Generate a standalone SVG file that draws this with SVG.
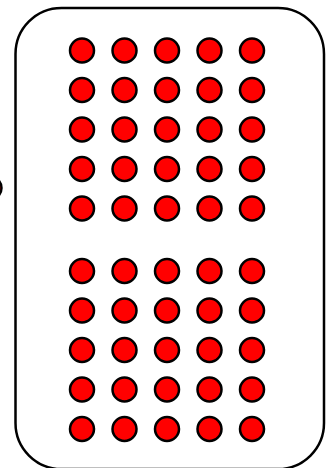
<svg xmlns="http://www.w3.org/2000/svg" width="326" height="468" viewBox="0 0 326 468">
<style>
.box{fill:#fff;stroke:#000;stroke-width:2.5}
.dot{fill:#f00;stroke:#000;stroke-width:2.5}
</style>
<defs>
<circle id="d" r="12" class="dot"/>
</defs>
<rect width="326" height="468" fill="#fff"/>
<g id="outside-dot"><use href="#d" x="-10.5" y="188"/></g>
<g id="container"><rect class="box" x="15.5" y="8" width="308.5" height="461" rx="46" ry="46"/></g>
<g id="group-top">
<g id="r1"><use href="#d" x="82" y="50.5"/><use href="#d" x="124.5" y="50.5"/><use href="#d" x="167" y="50.5"/><use href="#d" x="209.5" y="50.5"/><use href="#d" x="252" y="50.5"/></g>
<g id="r2"><use href="#d" x="82" y="90"/><use href="#d" x="124.5" y="90"/><use href="#d" x="167" y="90"/><use href="#d" x="209.5" y="90"/><use href="#d" x="252" y="90"/></g>
<g id="r3"><use href="#d" x="82" y="129.5"/><use href="#d" x="124.5" y="129.5"/><use href="#d" x="167" y="129.5"/><use href="#d" x="209.5" y="129.5"/><use href="#d" x="252" y="129.5"/></g>
<g id="r4"><use href="#d" x="82" y="169"/><use href="#d" x="124.5" y="169"/><use href="#d" x="167" y="169"/><use href="#d" x="209.5" y="169"/><use href="#d" x="252" y="169"/></g>
<g id="r5"><use href="#d" x="82" y="208.5"/><use href="#d" x="124.5" y="208.5"/><use href="#d" x="167" y="208.5"/><use href="#d" x="209.5" y="208.5"/><use href="#d" x="252" y="208.5"/></g>
</g>
<g id="group-bottom">
<g id="r6"><use href="#d" x="82" y="271"/><use href="#d" x="124.5" y="271"/><use href="#d" x="167" y="271"/><use href="#d" x="209.5" y="271"/><use href="#d" x="252" y="271"/></g>
<g id="r7"><use href="#d" x="82" y="310.5"/><use href="#d" x="124.5" y="310.5"/><use href="#d" x="167" y="310.5"/><use href="#d" x="209.5" y="310.5"/><use href="#d" x="252" y="310.5"/></g>
<g id="r8"><use href="#d" x="82" y="350"/><use href="#d" x="124.5" y="350"/><use href="#d" x="167" y="350"/><use href="#d" x="209.5" y="350"/><use href="#d" x="252" y="350"/></g>
<g id="r9"><use href="#d" x="82" y="389.5"/><use href="#d" x="124.5" y="389.5"/><use href="#d" x="167" y="389.5"/><use href="#d" x="209.5" y="389.5"/><use href="#d" x="252" y="389.5"/></g>
<g id="r10"><use href="#d" x="82" y="429"/><use href="#d" x="124.5" y="429"/><use href="#d" x="167" y="429"/><use href="#d" x="209.5" y="429"/><use href="#d" x="252" y="429"/></g>
</g>
<g id="connectors"/>
</svg>
